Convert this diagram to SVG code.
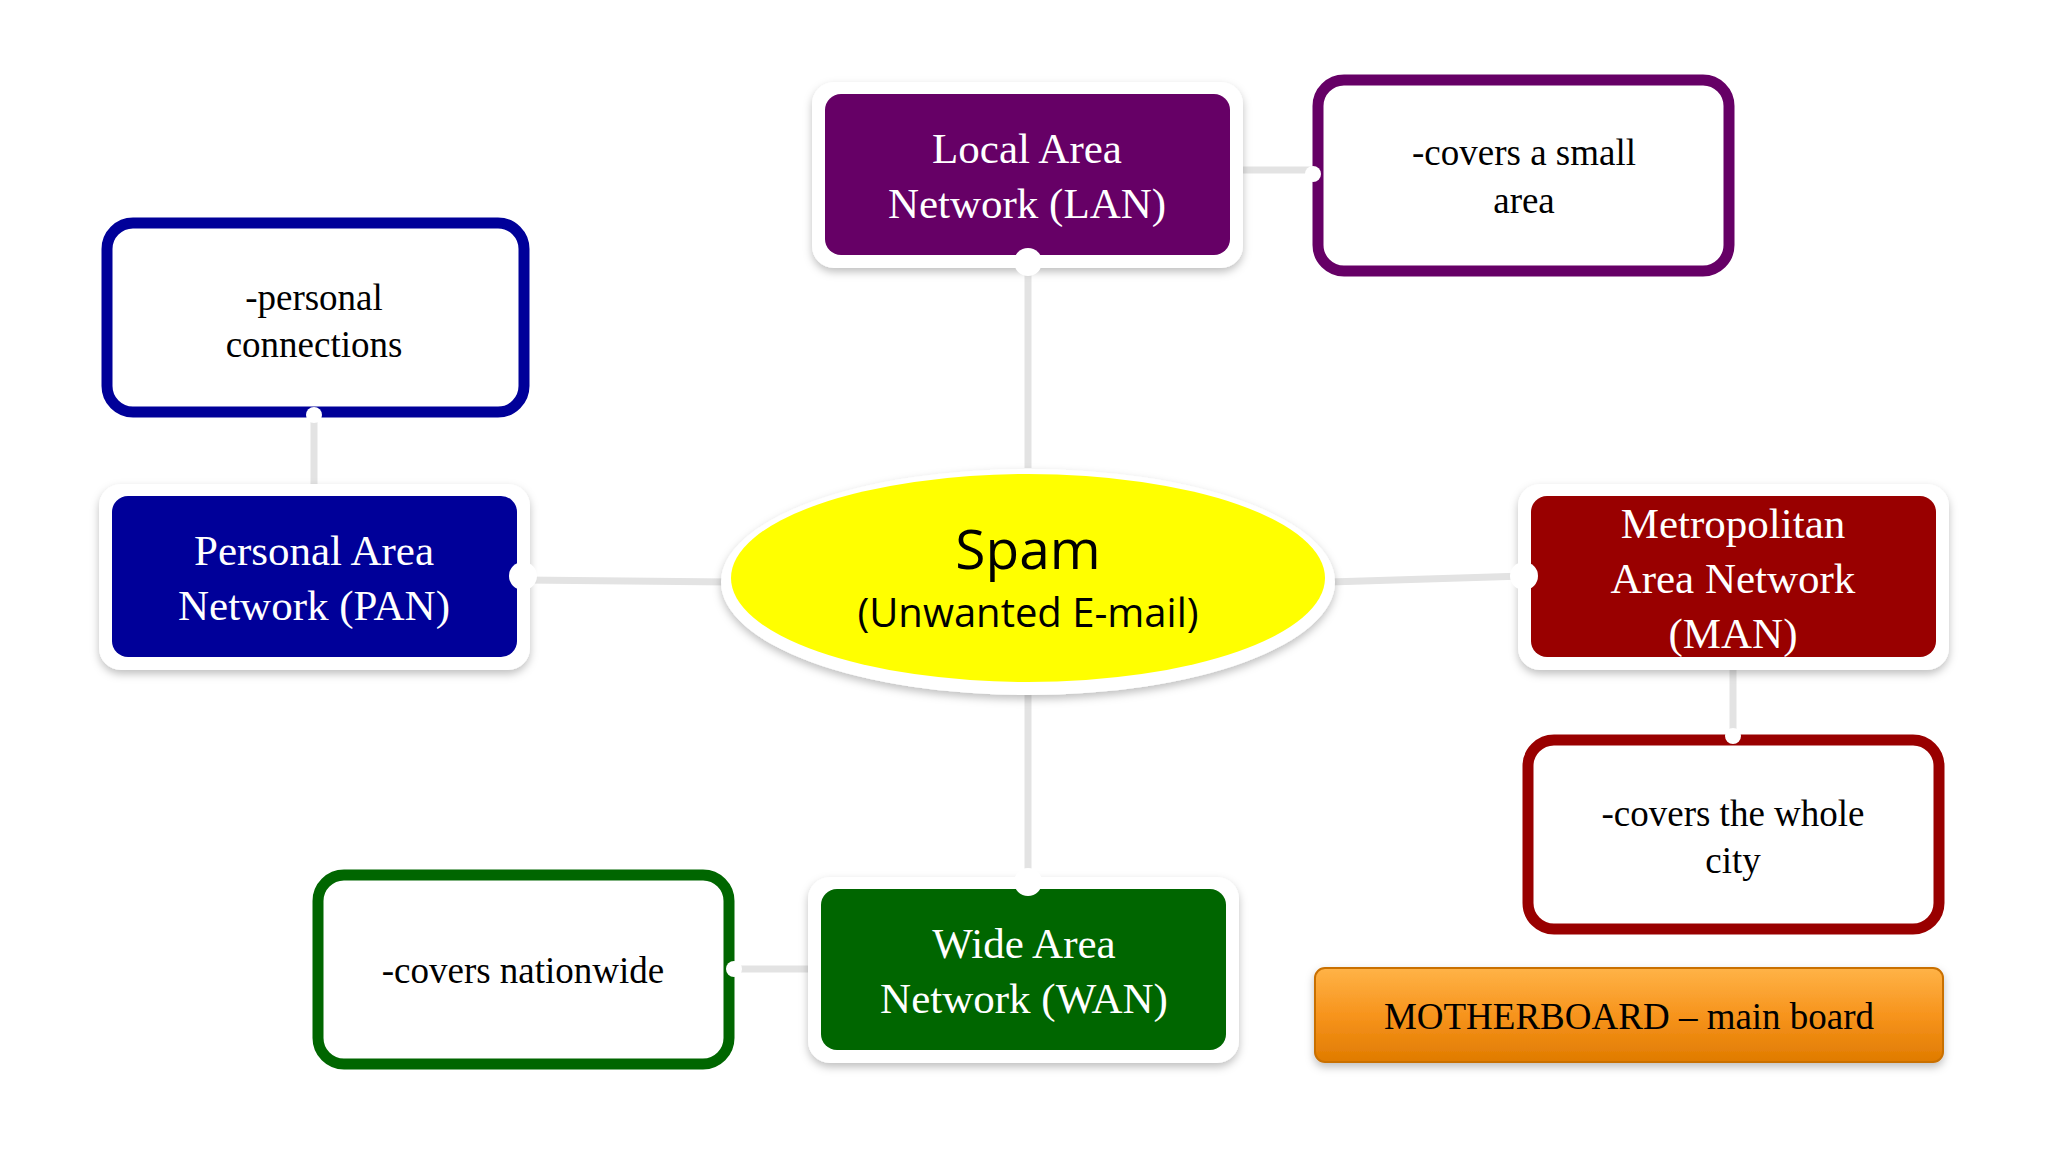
<svg xmlns="http://www.w3.org/2000/svg" width="2048" height="1152" viewBox="0 0 2048 1152">
<defs>
<filter id="sh" x="-10%" y="-10%" width="120%" height="130%"><feDropShadow dx="0" dy="4" stdDeviation="4" flood-color="#000" flood-opacity="0.25"/></filter>
<linearGradient id="og" x1="0" y1="0" x2="0" y2="1"><stop offset="0" stop-color="#ffb347"/><stop offset="0.5" stop-color="#f7941d"/><stop offset="1" stop-color="#e07b00"/></linearGradient>
</defs>
<style>
.frame{fill:#fff;filter:url(#sh)}
.bt{font-family:"Liberation Serif","DejaVu Serif",serif;font-size:43px;fill:#fff;text-anchor:middle}
.dt{font-family:"Liberation Serif","DejaVu Serif",serif;font-size:37px;fill:#000;text-anchor:middle}
.desc{fill:#fff;stroke-width:11}
.con{stroke:#e3e3e3;stroke-width:7;fill:none}
.dot{fill:#fff;stroke:#e3e3e3;stroke-width:2}
</style>
<rect width="2048" height="1152" fill="#fff"/>
<g id="connectors">
<line class="con" x1="1028" y1="262" x2="1028" y2="468"/>
<line class="con" x1="523" y1="580" x2="730" y2="582"/>
<line class="con" x1="1330" y1="582" x2="1524" y2="576"/>
<line class="con" x1="1028" y1="690" x2="1028" y2="882"/>
<line class="con" x1="314" y1="415" x2="314" y2="496"/>
<line class="con" x1="1236" y1="170" x2="1313" y2="170"/>
<line class="con" x1="1733" y1="666" x2="1733" y2="735"/>
<line class="con" x1="734" y1="969" x2="812" y2="969"/>
</g>
<g id="lan">
<rect class="frame" x="812" y="82" width="431" height="186" rx="22"/>
<rect x="825" y="94" width="405" height="161" rx="16" fill="#660066"/>
<circle cx="1028" cy="262" r="14" fill="#fff"/>
<text class="bt" x="1027" y="163">Local Area</text>
<text class="bt" x="1027" y="218">Network (LAN)</text>
</g>
<g id="lan-desc">
<rect class="desc" x="1318" y="80" width="411" height="191" rx="26" stroke="#660066"/>
<circle cx="1313" cy="174" r="8" fill="#fff"/>
<text class="dt" x="1524" y="165">-covers a small</text>
<text class="dt" x="1524" y="213">area</text>
</g>
<g id="pan-desc">
<rect class="desc" x="107" y="223" width="417" height="189" rx="26" stroke="#000099"/>
<circle cx="314" cy="415" r="8" fill="#fff"/>
<text class="dt" x="314" y="310">-personal</text>
<text class="dt" x="314" y="357">connections</text>
</g>
<g id="pan">
<rect class="frame" x="99" y="484" width="431" height="186" rx="22"/>
<rect x="112" y="496" width="405" height="161" rx="16" fill="#000099"/>
<circle cx="523" cy="576" r="14" fill="#fff"/>
<text class="bt" x="314" y="565">Personal Area</text>
<text class="bt" x="314" y="620">Network (PAN)</text>
</g>
<g id="spam">
<ellipse cx="1028" cy="582" rx="307" ry="113" fill="#fff" filter="url(#sh)"/>
<ellipse cx="1028" cy="578" rx="297" ry="104" fill="#ffff00"/>
<text x="1028" y="569" font-family="'Open Sans','Liberation Sans',sans-serif" font-size="55" text-anchor="middle">Spam</text>
<text x="1028" y="627" font-family="'Open Sans','Liberation Sans',sans-serif" font-size="40" text-anchor="middle">(Unwanted E-mail)</text>
</g>
<g id="man">
<rect class="frame" x="1518" y="484" width="431" height="186" rx="22"/>
<rect x="1531" y="496" width="405" height="161" rx="16" fill="#990000"/>
<circle cx="1524" cy="576" r="14" fill="#fff"/>
<text class="bt" x="1733" y="538">Metropolitan</text>
<text class="bt" x="1733" y="593">Area Network</text>
<text class="bt" x="1733" y="648">(MAN)</text>
</g>
<g id="man-desc">
<rect class="desc" x="1528" y="740" width="411" height="189" rx="26" stroke="#990000"/>
<circle cx="1733" cy="736" r="8" fill="#fff"/>
<text class="dt" x="1733" y="826">-covers the whole</text>
<text class="dt" x="1733" y="873">city</text>
</g>
<g id="wan">
<rect class="frame" x="808" y="877" width="431" height="186" rx="22"/>
<rect x="821" y="889" width="405" height="161" rx="16" fill="#006600"/>
<circle cx="1028" cy="882" r="14" fill="#fff"/>
<text class="bt" x="1024" y="958">Wide Area</text>
<text class="bt" x="1024" y="1013">Network (WAN)</text>
</g>
<g id="wan-desc">
<rect class="desc" x="318" y="875" width="411" height="189" rx="26" stroke="#006600"/>
<circle cx="734" cy="969" r="8" fill="#fff"/>
<text class="dt" x="523" y="983">-covers nationwide</text>
</g>
<g id="motherboard">
<rect x="1315" y="968" width="628" height="94" rx="10" fill="url(#og)" stroke="#c96f00" stroke-width="2" filter="url(#sh)"/>
<text class="dt" x="1629" y="1029">MOTHERBOARD – main board</text>
</g>
</svg>
